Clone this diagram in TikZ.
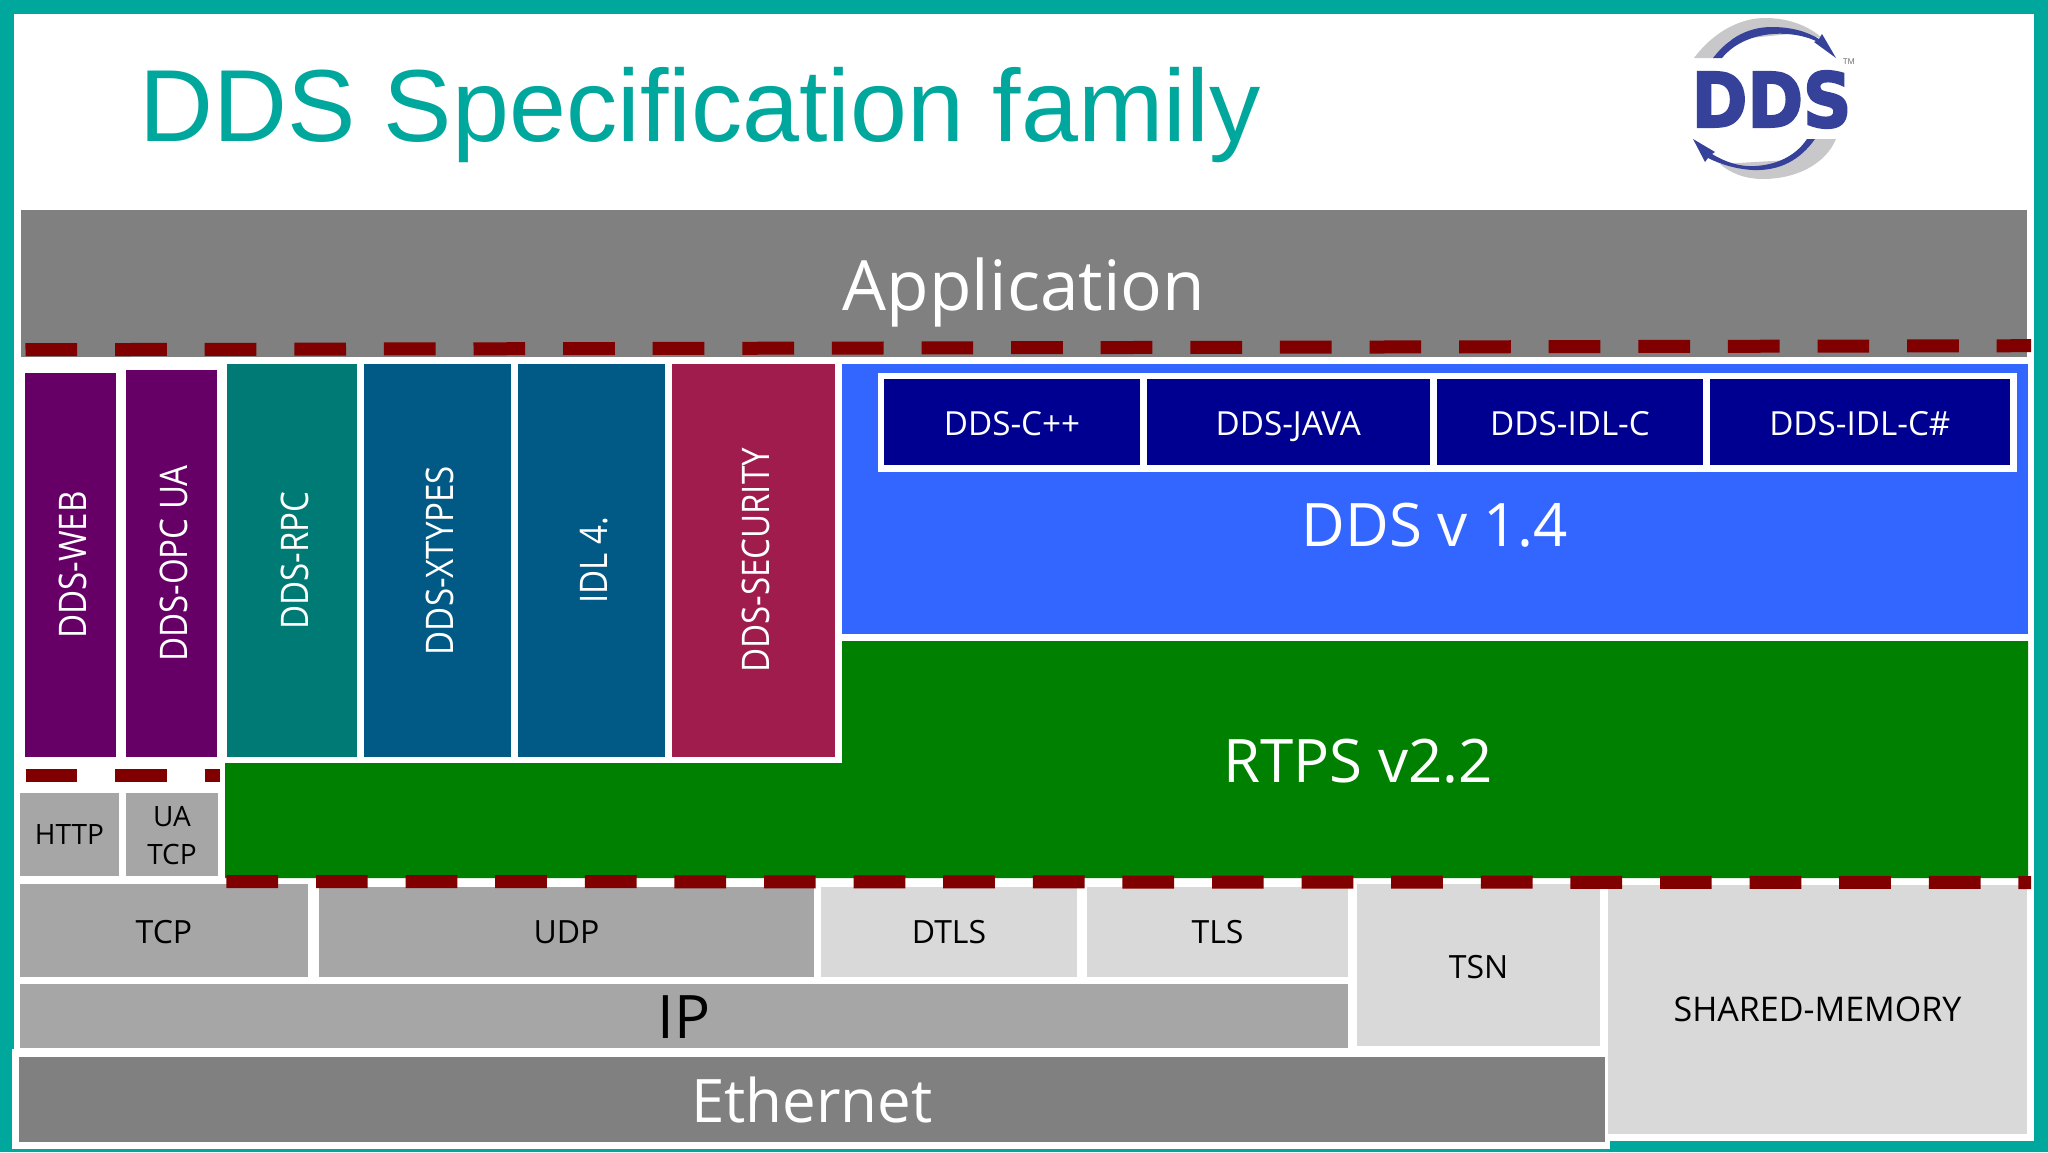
\documentclass[tikz,border=0pt]{standalone}
\usepackage{fontspec}
\setmainfont{Open Sans}
\newfontfamily\narrowfont[FakeStretch=0.87]{Open Sans}
\newfontfamily\titlefont{Liberation Sans}
\newfontfamily\logofont[FakeBold=3]{DejaVu Sans Bold}
\usepackage{tikz}

\begin{document}
\begin{tikzpicture}[x=0.5pt,y=-0.5pt,
    reddash/.style={draw=dashred,line width=6.5pt,dash pattern=on 25.85pt off 18.95pt},
    whitelab/.style={text=white,text height=11.8pt,text depth=0pt,yshift=-1pt,font=\fontsize{16.6}{18}\selectfont},
    sidelab/.style={text=white,rotate=90,yshift=-1.3pt,font=\narrowfont\fontsize{19}{22}\selectfont},
    blacklab/.style={text=black,text height=11.4pt,text depth=0pt,font=\fontsize{16}{18}\selectfont},
    biglab/.style={text=white,font=\fontsize{30}{34}\selectfont}]

% Define colors
\definecolor{frameteal}{RGB}{0,167,157}
\definecolor{dashred}{RGB}{128,0,0}
\definecolor{appgray}{RGB}{128,128,128}
\definecolor{midgray}{RGB}{166,166,166}
\definecolor{lightgray}{RGB}{217,217,217}
\definecolor{webpurple}{RGB}{102,0,102}
\definecolor{rpcteal}{RGB}{0,122,116}
\definecolor{idlblue}{RGB}{0,90,133}
\definecolor{seccrimson}{RGB}{160,28,76}
\definecolor{ddsblue}{RGB}{51,102,255}
\definecolor{langnavy}{RGB}{0,0,144}
\definecolor{rtpsgreen}{RGB}{0,128,0}
\definecolor{logoblue}{RGB}{54,66,154}
\definecolor{logogray}{RGB}{200,200,202}

% Helper for drawing blocks
\newcommand{\layerblock}[8]{%
    % #1 = name, #2-#5 = corners, #6 = fill, #7 = label style, #8 = label
    \fill[#6] (#2,#3) rectangle (#4,#5) node[midway,inner sep=0pt,#7] (#1) {#8};
}

\useasboundingbox (0,0) rectangle (2048,1152);

% Frame
\fill[frameteal] (0,0) rectangle (2048,1152);
\fill[white] (14,13.5) rectangle (2034,1141);
\fill[white] (12,1049) rectangle (1610,1149);

% Title and logo
\node[anchor=base west,inner sep=0pt,text=frameteal,font=\titlefont\fontsize{51.2}{60}\selectfont] (title) at (139,141) {DDS Specification family};
\fill[logogray] (1694,58) .. controls (1715,30) and (1742,18) .. (1765,18) .. controls (1790,18) and (1810,27) .. (1822,38) -- (1790,34) -- (1730,40) -- (1713,58) -- cycle;
\fill[logogray] (1836,139) .. controls (1825,165) and (1795,179) .. (1763,179) .. controls (1745,179) and (1730,173) .. (1720,164) -- (1790,160) -- (1815,139) -- cycle;
\fill[logoblue] (1713,58) .. controls (1730,36) and (1750,27) .. (1772,27) .. controls (1790,27) and (1806,31) .. (1819,39) -- (1822,34) -- (1836,58) -- (1814,42) -- (1816,41) .. controls (1790,29) and (1745,30) .. (1722,58) -- cycle;
\fill[logoblue] (1815,139) .. controls (1800,160) and (1780,171) .. (1753,170) .. controls (1735,169) and (1720,164) .. (1708,158) -- (1705,162) -- (1693,139) -- (1715,152) -- (1712,154) .. controls (1725,162) and (1740,167) .. (1755,166) .. controls (1775,165) and (1795,157) .. (1807,139) -- cycle;
\node[inner sep=0pt,text=logoblue,xscale=0.89,font=\logofont\fontsize{37.7}{40}\selectfont] (logo) at (1771.5,99.5) {DDS};
\node[inner sep=0pt,text=black!60,font=\fontsize{4}{5}\selectfont] (tm) at (1849,62) {TM};

% Application layer
\layerblock{app}{21}{210}{2027}{357}{appgray}{biglab,yshift=-4.5pt,font=\fontsize{34.7}{38}\selectfont}{Application}
\draw[reddash] (25.5,349.7) -- (2031,345.7);

% Vertical specifications
\layerblock{web}{25}{373}{115.5}{757}{webpurple}{sidelab}{DDS-WEB}
\layerblock{opcua}{126}{370}{217}{757}{webpurple}{sidelab}{DDS-OPC UA}
\layerblock{rpc}{227}{364}{357}{757}{rpcteal}{sidelab}{DDS-RPC}
\layerblock{xtypes}{364}{364}{511}{757}{idlblue}{sidelab}{DDS-XTYPES}
\layerblock{idl}{518}{364}{665}{757}{idlblue}{sidelab}{IDL 4.}
\layerblock{security}{672}{364}{835}{757}{seccrimson}{sidelab}{DDS-SECURITY}

% DDS and language bindings
\layerblock{dds}{842}{364}{2027.5}{634}{ddsblue}{biglab,yshift=-13pt}{DDS v 1.4}
\fill[white] (878,373) rectangle (2016.5,472);
\layerblock{cpp}{884}{379}{1140}{465}{langnavy}{whitelab}{DDS-C++}
\layerblock{java}{1146.5}{379}{1430}{465}{langnavy}{whitelab}{DDS-JAVA}
\layerblock{idlc}{1437}{379}{1703}{465}{langnavy}{whitelab}{DDS-IDL-C}
\layerblock{idlcs}{1709.6}{379}{2010}{465}{langnavy}{whitelab}{DDS-IDL-C\#}

% RTPS
\fill[rtpsgreen] (225,763) -- (842,763) -- (842,641) -- (2028,641) -- (2028,878) -- (225,878) -- cycle;
\node[biglab] (rtps) at (1358,761) {RTPS v2.2};

% Transports
\draw[reddash] (25.5,775.5) -- (220,775.5);
\layerblock{http}{20}{793}{119}{876}{midgray}{blacklab,text height=10pt,font=\fontsize{14}{18}\selectfont}{HTTP}
\layerblock{uatcp}{126}{793}{218}{876}{midgray}{text=black,align=center,yshift=-0.5pt,font=\fontsize{14}{19}\selectfont}{UA\\TCP}
\layerblock{tcp}{20}{884}{308}{977}{midgray}{blacklab,yshift=-1pt}{TCP}
\layerblock{udp}{319}{887}{814}{977}{midgray}{blacklab}{UDP}
\layerblock{dtls}{821}{887}{1077}{977}{lightgray}{blacklab}{DTLS}
\layerblock{tls}{1087}{887}{1348}{977}{lightgray}{blacklab}{TLS}
\layerblock{tsn}{1357}{884}{1600}{1046}{lightgray}{blacklab,yshift=-1pt}{TSN}
\layerblock{shm}{1608}{885}{2027}{1134}{lightgray}{blacklab,yshift=-0.5pt,font=\fontsize{17}{18}\selectfont}{SHARED-MEMORY}
\layerblock{ip}{20}{984}{1348}{1048}{midgray}{biglab,text=black,yshift=-0.5pt}{IP}
\layerblock{eth}{18.5}{1057}{1605}{1142}{appgray}{biglab}{Ethernet}
\draw[reddash] (226.4,881.5) -- (2031,882.5);

\end{tikzpicture}
\end{document}
